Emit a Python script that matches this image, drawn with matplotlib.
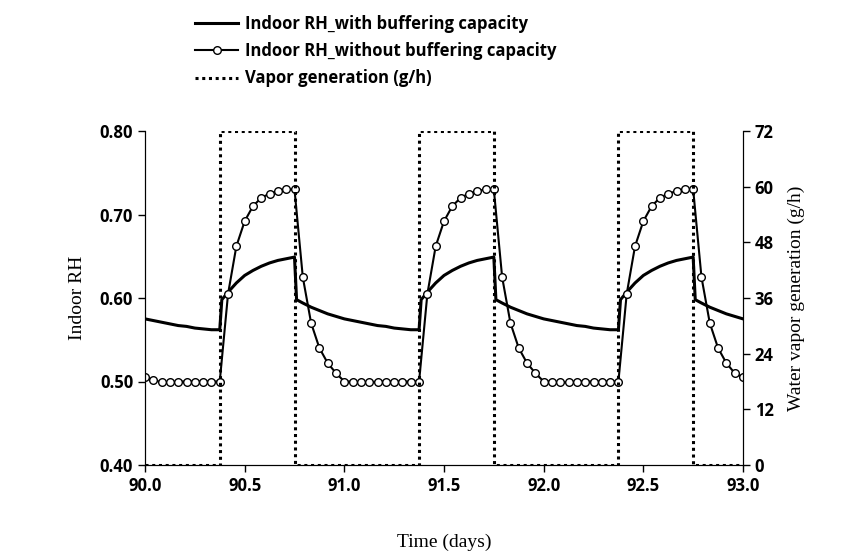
import matplotlib.pyplot as plt
import numpy as np

# one-day profiles (hour of day -> value), repeated for 3 days
hours = [0, 1, 2, 3, 4, 5, 6, 7, 8, 9, 10, 11, 12, 13, 14, 15, 16, 17, 18, 19, 20, 21, 22, 23]
rh_nobuf_day = [0.500, 0.500, 0.499, 0.499, 0.500, 0.500, 0.500, 0.500, 0.500, 0.500,
                0.605, 0.662, 0.692, 0.710, 0.720, 0.725, 0.728, 0.730, 0.730,
                0.625, 0.570, 0.540, 0.522, 0.510]
buf_t = [0, 1, 2, 3, 4, 5, 6, 7, 8, 9, 9.25, 10, 11, 12, 13, 14, 15, 16, 17, 18, 18.25, 19, 20, 21, 22, 23]
rh_buf_day = [0.575, 0.573, 0.571, 0.569, 0.567, 0.566, 0.564, 0.563, 0.562, 0.562, 0.598,
              0.607, 0.618, 0.627, 0.633, 0.638, 0.642, 0.645, 0.647, 0.649, 0.598,
              0.594, 0.589, 0.585, 0.581, 0.578]
vap_t = [90.0, 90.375, 90.375, 90.75, 90.75, 91.375, 91.375, 91.75, 91.75,
         92.375, 92.375, 92.75, 92.75, 93.0]
vap_v = [0, 0, 72, 72, 0, 0, 72, 72, 0, 0, 72, 72, 0, 0]

x_nb, y_nb, x_b, y_b = [], [], [], []
for d in range(3):
    x_nb += [90 + d + h / 24 for h in hours]
    y_nb += rh_nobuf_day
    x_b += [90 + d + h / 24 for h in buf_t]
    y_b += rh_buf_day
x_nb.append(93.0); y_nb.append(0.505)
x_b.append(93.0); y_b.append(0.575)
y_nb[0] = 0.505; y_nb[1] = 0.502

sans = 'Open Sans'
serif = 'Liberation Serif'

fig = plt.figure(figsize=(8.46, 5.58), dpi=100)
ax = fig.add_axes([145 / 846, 1 - 465 / 558, (743 - 145) / 846, (465 - 131) / 558])
l1, = ax.plot(x_b, y_b, color='black', lw=2.2)
l2, = ax.plot(x_nb, y_nb, color='black', lw=1.5, marker='o', ms=5.5,
              mfc='white', mec='black', mew=1)
ax.set_xlim(90, 93)
ax.set_ylim(0.40, 0.80)
ax.set_xticks(np.arange(90, 93.01, 0.5))
ax.set_yticks(np.arange(0.40, 0.801, 0.10))
ax.set_xticklabels([f'{v:.1f}' for v in np.arange(90, 93.01, 0.5)],
                   fontweight='bold', fontfamily=sans, fontsize=12)
ax.set_yticklabels([f'{v:.2f}' for v in np.arange(0.40, 0.801, 0.10)],
                   fontweight='bold', fontfamily=sans, fontsize=12)
ax.tick_params(direction='out', length=5, width=1)
ax.set_ylabel('Indoor RH', fontfamily=serif, fontsize=14, labelpad=10)
ax.set_xlabel('Time (days)', fontfamily=serif, fontsize=14, labelpad=28)
ax.spines['top'].set_visible(False)

ax2 = ax.twinx()
l3, = ax2.plot(vap_t, vap_v, color='black', lw=2.2, ls=(0, (1, 1.2)))
ax2.set_ylim(0, 72)
ax2.set_yticks(np.arange(0, 73, 12))
ax2.set_yticklabels([str(v) for v in range(0, 73, 12)],
                    fontweight='bold', fontfamily=sans, fontsize=12)
ax2.tick_params(direction='out', length=5, width=1)
ax2.set_ylabel('Water vapor generation (g/h)', fontfamily=serif, fontsize=14, labelpad=10)
ax2.spines['top'].set_visible(False)

fig.legend([l1, l2, l3], ['Indoor RH_with buffering capacity',
                          'Indoor RH_without buffering capacity',
                          'Vapor generation (g/h)'],
           loc='upper left', bbox_to_anchor=(180 / 846, 1.0), frameon=False,
           prop={'family': sans, 'weight': 'bold', 'size': 12},
           handlelength=2.6, labelspacing=0.55, handletextpad=0.4)

fig.savefig('out.png', dpi=100)
